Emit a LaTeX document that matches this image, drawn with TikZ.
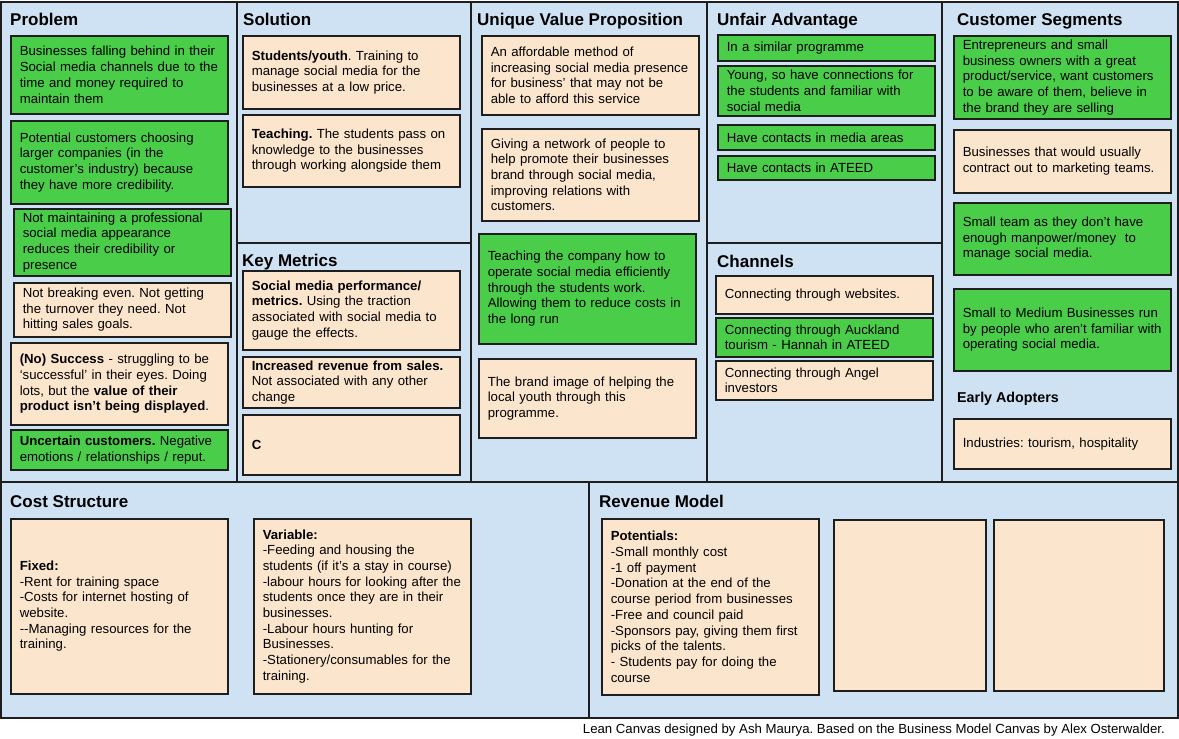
\documentclass[tikz,border=0pt]{standalone}
\usepackage{fontspec}
\setmainfont{Liberation Sans}
\usepackage{tikz}
\definecolor{panelcolor}{RGB}{207, 226, 243}
\definecolor{greencolor}{RGB}{74, 206, 74}
\definecolor{peachcolor}{RGB}{252, 229, 205}
\definecolor{edgecolor}{RGB}{30, 30, 30}
\newcommand{\cardfont}{\fontsize{13.2pt}{15.7pt}\selectfont\frenchspacing}
\newcommand{\headfont}{\fontsize{17pt}{20pt}\selectfont\bfseries}
\newcommand{\subheadfont}{\fontsize{14.3pt}{17pt}\selectfont\bfseries}

\begin{document}
\begin{tikzpicture}[x=1pt, y=-1pt,
    panel/.style={draw=edgecolor, line width=1.6pt, fill=panelcolor},
    card/.style={draw=edgecolor, line width=1.6pt, anchor=north west, inner xsep=9pt, inner ysep=2pt, text width=199pt, font=\cardfont, execute at begin node={\rightskip=-14pt plus 1fil\relax}},
    greencard/.style={card, fill=greencolor},
    peachcard/.style={card, fill=peachcolor},
    heading/.style={anchor=base west, inner sep=0pt, font=\headfont}]
        \useasboundingbox[fill=white] (0, 0) rectangle (1179, 739);

        % Canvas panels
        \draw[panel] (1, 2) rectangle (237, 482);
        \draw[panel] (237, 2) rectangle (471, 243);
        \draw[panel] (237, 243) rectangle (471, 482);
        \draw[panel] (471, 2) rectangle (707, 482);
        \draw[panel] (707, 2) rectangle (942, 243);
        \draw[panel] (707, 243) rectangle (942, 482);
        \draw[panel] (942, 2) rectangle (1178, 482);
        \draw[panel] (1, 482) rectangle (589, 718);
        \draw[panel] (589, 482) rectangle (1178, 718);

        % Problem
        \node[heading] (probhead) at (10, 25) {Problem};
        \node[greencard, minimum height=78pt] (prob1) at (10, 35) {Businesses falling behind in their\\Social media channels due to the\\time and money required to\\maintain them};
        \node[greencard, minimum height=83pt] (prob2) at (10, 120) {Potential customers choosing\\larger companies (in the\\customer's industry) because\\they have more credibility.};
        \node[greencard, minimum height=67pt] (prob3) at (13, 208) {Not maintaining a professional\\social media appearance\\reduces their credibility or\\presence};
        \node[peachcard, minimum height=54pt] (prob4) at (13, 282) {Not breaking even. Not getting\\the turnover they need. Not\\hitting sales goals.};
        \node[peachcard, minimum height=82pt] (prob5) at (10, 342) {\textbf{(No) Success} - struggling to be\\`successful' in their eyes. Doing\\lots, but the \textbf{value of their}\\\textbf{product isn't being displayed}.};
        \node[greencard, minimum height=40pt] (prob6) at (10, 429) {\textbf{Uncertain customers.} Negative\\emotions / relationships / reput.};

        % Solution
        \node[heading] (solhead) at (243, 25) {Solution};
        \node[peachcard, minimum height=73pt] (sol1) at (242, 35) {\textbf{Students/youth}. Training to\\manage social media for the\\businesses at a low price.};
        \node[peachcard, minimum height=72pt] (sol2) at (242, 114) {\textbf{Teaching.} The students pass on\\knowledge to the businesses\\through working alongside them};

        % Key Metrics
        \node[heading] (methead) at (242, 266) {Key Metrics};
        \node[peachcard, minimum height=79pt] (met1) at (242, 270) {\textbf{Social media performance/}\\\textbf{metrics.} Using the traction\\associated with social media to\\gauge the effects.};
        \node[peachcard, minimum height=51pt] (met2) at (242, 356) {\textbf{Increased revenue from sales.}\\Not associated with any other\\change};
        \node[peachcard, minimum height=60pt] (met3) at (242, 414) {\textbf{C}};

        % Unique Value Proposition
        \node[heading] (uvphead) at (477, 25) {Unique Value Proposition};
        \node[peachcard, minimum height=79pt] (uvp1) at (481, 35) {An affordable method of\\increasing social media presence\\for business' that may not be\\able to afford this service};
        \node[peachcard, minimum height=92pt] (uvp2) at (481, 128) {Giving a network of people to\\help promote their businesses\\brand through social media,\\improving relations with\\customers.};
        \node[greencard, minimum height=110pt] (uvp3) at (478, 233) {Teaching the company how to\\operate social media efficiently\\through the students work.\\Allowing them to reduce costs in\\the long run};
        \node[peachcard, minimum height=79pt] (uvp4) at (478, 358) {The brand image of helping the\\local youth through this\\programme.};

        % Unfair Advantage
        \node[heading] (advhead) at (717, 25) {Unfair Advantage};
        \node[greencard, minimum height=26pt] (adv1) at (717, 34) {In a similar programme};
        \node[greencard, minimum height=50pt] (adv2) at (717, 65) {Young, so have connections for\\the students and familiar with\\social media};
        \node[greencard, minimum height=25pt] (adv3) at (717, 124) {Have contacts in media areas};
        \node[greencard, minimum height=24pt] (adv4) at (717, 155) {Have contacts in ATEED};

        % Channels
        \node[heading] (chanhead) at (717, 267) {Channels};
        \node[peachcard, minimum height=38pt] (chan1) at (715, 275) {Connecting through websites.};
        \node[greencard, minimum height=39pt] (chan2) at (715, 317) {Connecting through Auckland\\tourism - Hannah in ATEED};
        \node[peachcard, minimum height=39pt] (chan3) at (715, 360) {Connecting through Angel\\investors};

        % Customer Segments
        \node[heading] (seghead) at (957, 25) {Customer Segments};
        \node[greencard, minimum height=83pt] (seg1) at (953, 35) {Entrepreneurs and small\\business owners with a great\\product/service, want customers\\to be aware of them, believe in\\the brand they are selling};
        \node[peachcard, minimum height=63pt] (seg2) at (953, 129) {Businesses that would usually\\contract out to marketing teams.};
        \node[greencard, minimum height=72pt] (seg3) at (953, 202) {Small team as they don't have\\enough manpower/money\ \ to\\manage social media.};
        \node[greencard, minimum height=82pt] (seg4) at (953, 288) {Small to Medium Businesses run\\by people who aren't familiar with\\operating social media.};
        \node[heading, font=\subheadfont] (earlyhead) at (957, 402) {Early Adopters};
        \node[peachcard, minimum height=50pt] (early) at (953, 418) {Industries: tourism, hospitality};

        % Cost Structure
        \node[heading] (costhead) at (10, 507) {Cost Structure};
        \node[peachcard, minimum height=175pt] (fixed) at (10, 518) {\textbf{Fixed:}\\-Rent for training space\\-Costs for internet hosting of\\website.\\-{}-Managing resources for the\\training.};
        \node[peachcard, minimum height=175pt] (variable) at (253, 518) {\textbf{Variable:}\\-Feeding and housing the\\students (if it's a stay in course)\\-labour hours for looking after the\\students once they are in their\\businesses.\\-Labour hours hunting for\\Businesses.\\-Stationery/consumables for the\\training.};

        % Revenue Model
        \node[heading] (revhead) at (599, 507) {Revenue Model};
        \node[peachcard, minimum height=176pt] (rev1) at (601, 518) {\textbf{Potentials:}\\-Small monthly cost\\-1 off payment\\-Donation at the end of the\\course period from businesses\\-Free and council paid\\-Sponsors pay, giving them first\\picks of the talents.\\- Students pay for doing the\\course};
        \node[peachcard, text width=134pt, minimum height=171pt] (rev2) at (833, 519) {};
        \node[peachcard, text width=152pt, minimum height=171pt] (rev3) at (993, 519) {};

        % Credit line
        \node[anchor=base east, inner sep=0pt, font=\cardfont] (credit) at (1165, 733) {Lean Canvas designed by Ash Maurya. Based on the Business Model Canvas by Alex Osterwalder.};
    \end{tikzpicture}
\end{document}
